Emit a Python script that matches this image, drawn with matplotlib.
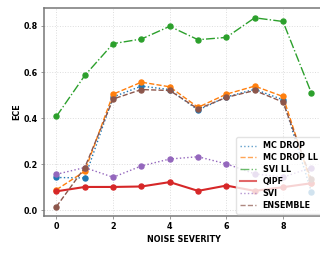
import numpy as np
import matplotlib
matplotlib.use("Agg")
import matplotlib.pyplot as plt

severity = list(range(10))

mc_drop = [0.143, 0.141, 0.492, 0.539, 0.524, 0.435, 0.492, 0.525, 0.480, 0.082]
mc_drop_ll = [0.090, 0.170, 0.504, 0.556, 0.536, 0.447, 0.504, 0.539, 0.494, 0.118]
svi_ll = [0.408, 0.585, 0.723, 0.743, 0.798, 0.740, 0.750, 0.835, 0.819, 0.510]
qipf = [0.083, 0.102, 0.102, 0.104, 0.123, 0.085, 0.108, 0.085, 0.101, 0.118]
svi = [0.157, 0.186, 0.144, 0.193, 0.223, 0.233, 0.202, 0.159, 0.144, 0.186]
ensemble = [0.017, 0.186, 0.483, 0.524, 0.520, 0.440, 0.490, 0.520, 0.470, 0.135]

series = [
    ("MC DROP", mc_drop, "tab:blue", ":", 1.0),
    ("MC DROP LL", mc_drop_ll, "tab:orange", "--", 1.0),
    ("SVI LL", svi_ll, "tab:green", "-.", 1.0),
    ("QIPF", qipf, "tab:red", "-", 1.5),
    ("SVI", svi, "tab:purple", ":", 1.0),
    ("ENSEMBLE", ensemble, "tab:brown", "--", 1.0),
]

fs = 5.8
plt.rcParams['font.family'] = ['DejaVu Sans']
plt.rcParams['font.weight'] = 'bold'

fig = plt.figure(figsize=(3.2, 2.57), dpi=100)
ax = fig.add_axes([0.1366, 0.1595, 0.876, 0.808])

for name, vals, color, ls, lw in series:
    ax.plot(severity, vals, color=color, linestyle=ls, linewidth=lw,
            marker="o", markersize=3.6, label=name)

ax.set_xticks([0, 2, 4, 6, 8])
ax.set_yticks([0.0, 0.2, 0.4, 0.6, 0.8])
ax.set_yticklabels(["0.0", "0.2", "0.4", "0.6", "0.8"])
ax.tick_params(labelsize=fs, length=2, width=0.6, color="#888888", pad=2)
for lab in ax.get_xticklabels() + ax.get_yticklabels():
    lab.set_fontweight("bold")

ax.set_xlabel("NOISE SEVERITY", fontsize=fs, fontweight="bold", labelpad=3)
ax.set_ylabel("ECE", fontsize=fs, fontweight="bold", labelpad=2)

ax.grid(True, color="#dddddd", linestyle=":", linewidth=0.7)
for side in ["left", "bottom", "top", "right"]:
    ax.spines[side].set_color("#777777")
    ax.spines[side].set_linewidth(1.1)

leg = ax.legend(loc="lower right", bbox_to_anchor=(1.0, 0.0),
                prop={"weight": "bold", "size": fs}, framealpha=0.8,
                edgecolor="#dddddd", borderpad=0.5, labelspacing=0.35,
                handlelength=2.0, handletextpad=0.8, borderaxespad=0.3)
for h in leg.legend_handles:
    h.set_marker("")
    h.set_alpha(0.7)

plt.savefig("out.png", dpi=100)
